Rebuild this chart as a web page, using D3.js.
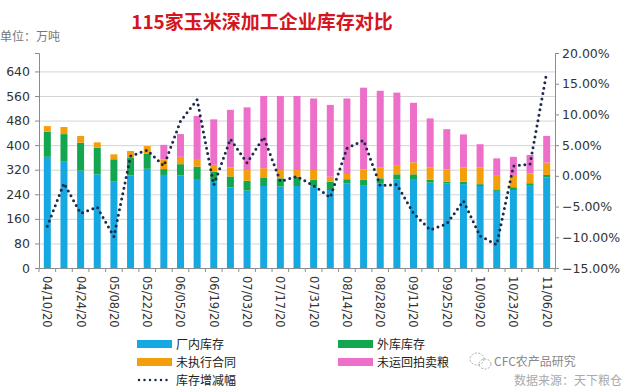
<!DOCTYPE html>
<html>
<head>
<meta charset="utf-8">
<script src="https://cdn.jsdelivr.net/npm/d3@7"></script>
<style>
  body { margin: 0; background: #fff; }
  svg { display: block; font-family: "Noto Sans CJK SC", "DejaVu Sans", sans-serif; }
</style>
</head>
<body>
<svg id="chart" width="624" height="388"></svg>
<script>
  // weekly dates
  const dates = ["04/10/20","04/17/20","04/24/20","05/01/20","05/08/20","05/15/20","05/22/20","05/29/20",
    "06/05/20","06/12/20","06/19/20","06/26/20","07/03/20","07/10/20","07/17/20","07/24/20",
    "07/31/20","08/07/20","08/14/20","08/21/20","08/28/20","09/04/20","09/11/20","09/18/20",
    "09/25/20","10/02/20","10/09/20","10/16/20","10/23/20","10/30/20","11/06/20"];

  const factoryStock = [362,346,317,305,281,301,323,303,301,287,281,262,252,267,265,267,
    265,254,276,270,276,289,287,278,276,273,267,251,254,270,295];
  const outerStock = [82,90,91,87,73,59,50,19,37,43,33,36,32,28,27,30,
    22,27,13,17,16,16,18,9,5,8,6,5,9,6,8];
  const unexecuted = [18,23,22,17,16,21,24,32,24,22,22,29,35,30,27,22,
    32,16,17,34,36,30,39,41,40,47,55,44,40,32,40];
  const auctionGrain = [0,0,0,0,0,0,0,47,74,143,148,188,204,235,241,241,
    233,234,246,266,249,236,194,159,131,107,75,57,59,60,87];
  // 库存增减幅 (%)
  const changeRate = [-8.2,-1.2,-6.1,-5.1,-9.9,3.2,4.2,1.6,8.9,12.4,-1.5,6.0,2.1,6.3,-0.9,-0.1,
    -1.6,-3.5,4.5,5.8,-1.6,-1.4,-6.1,-8.8,-7.8,-4.1,-9.8,-11.2,1.6,1.9,16.8];

  const leftTicks = [0,80,160,240,320,400,480,560,640];
  const rightTicks = [-15,-10,-5,0,5,10,15,20];

  const seriesKeys = ["厂内库存","外库库存","未执行合同","未运回拍卖粮"];
  const colors = ["#16a8e0","#12a64e","#f59e0b","#ee6fca"];
  const lineColor = "#1c2a4c";

  const rows = dates.map((d, i) => ({
    date: d,
    "厂内库存": factoryStock[i],
    "外库库存": outerStock[i],
    "未执行合同": unexecuted[i],
    "未运回拍卖粮": auctionGrain[i]
  }));

  const svg = d3.select("#chart");
  const mLeft = 39, mRight = 555, mTop = 53, mBottom = 268;

  const x = d3.scaleBand().domain(dates).range([mLeft, mRight]).paddingInner(0.58).paddingOuter(0.29);
  const y = d3.scaleLinear().domain([0, 700]).range([mBottom, mTop]);
  const y2 = d3.scaleLinear().domain([-15, 20]).range([mBottom, mTop]);

  // title + unit
  svg.append("text").attr("x", 262).attr("y", 29).attr("text-anchor", "middle")
    .attr("font-size", 19).attr("font-weight", "bold").attr("fill", "#d5161e")
    .text("115家玉米深加工企业库存对比");
  svg.append("text").attr("x", 0).attr("y", 41).attr("font-size", 12).attr("fill", "#777")
    .text("单位：万吨");

  // grid
  svg.append("g").selectAll("line").data(leftTicks.filter(t => t > 0)).join("line")
    .attr("x1", mLeft).attr("x2", mRight)
    .attr("y1", d => y(d) + 0.5).attr("y2", d => y(d) + 0.5)
    .attr("stroke", "#d4d4d4");

  // bars
  const stack = d3.stack().keys(seriesKeys)(rows);
  svg.append("g").selectAll("g").data(stack).join("g")
    .attr("fill", (d, i) => colors[i])
    .selectAll("rect").data(d => d).join("rect")
      .attr("x", d => x(d.data.date))
      .attr("width", x.bandwidth())
      .attr("y", d => y(d[1]))
      .attr("height", d => y(d[0]) - y(d[1]));

  // dotted line
  const line = d3.line()
    .x((d, i) => x(dates[i]) + x.bandwidth() / 2)
    .y(d => y2(d));
  svg.append("path").datum(changeRate)
    .attr("d", line).attr("fill", "none")
    .attr("stroke", lineColor).attr("stroke-width", 3)
    .attr("stroke-linecap", "round").attr("stroke-dasharray", "0 5.5");

  // axes
  const axisColor = "#8c8c8c";
  const gl = svg.append("g").attr("transform", `translate(${mLeft},0)`)
    .call(d3.axisLeft(y).tickValues(leftTicks).tickSize(4).tickPadding(5));
  const gr = svg.append("g").attr("transform", `translate(${mRight},0)`)
    .call(d3.axisRight(y2).tickValues(rightTicks).tickFormat(d => d3.format(".2f")(d) + "%").tickSize(4).tickPadding(3));
  const gx = svg.append("g").attr("transform", `translate(0,${mBottom})`)
    .call(d3.axisBottom(x).tickSize(0).tickFormat((d, i) => i % 2 === 0 ? d : ""));

  [gl, gr, gx].forEach(g => {
    g.select(".domain").attr("stroke", axisColor);
    g.selectAll(".tick line").attr("stroke", axisColor);
    g.selectAll("text").attr("font-size", 12).attr("fill", "#333")
      .attr("font-family", "'DejaVu Sans', sans-serif");
  });
  gl.selectAll("text").attr("font-size", 12.5);
  gr.selectAll("text").attr("font-size", 12.5);

  // category boundary ticks
  gx.append("g").selectAll("line").data(d3.range(dates.length + 1)).join("line")
    .attr("x1", i => mLeft + i * x.step()).attr("x2", i => mLeft + i * x.step())
    .attr("y1", 0).attr("y2", 4).attr("stroke", axisColor);

  gx.selectAll(".tick text")
    .attr("transform", "rotate(90)")
    .attr("text-anchor", "start")
    .attr("dy", "0.35em").attr("dx", 0)
    .attr("x", 8).attr("y", 0)
    .attr("font-size", 11.5);

  // legend
  const legend = [
    { label: "厂内库存", color: colors[0], lx: 137, ly: 344 },
    { label: "外库库存", color: colors[1], lx: 338, ly: 344 },
    { label: "未执行合同", color: colors[2], lx: 137, ly: 362 },
    { label: "未运回拍卖粮", color: colors[3], lx: 338, ly: 362 }
  ];
  const lg = svg.append("g");
  legend.forEach(d => {
    lg.append("rect").attr("x", d.lx).attr("y", d.ly - 4).attr("width", 35).attr("height", 8).attr("fill", d.color);
    lg.append("text").attr("x", d.lx + 39).attr("y", d.ly + 4.5).attr("font-size", 12).attr("fill", "#222").text(d.label);
  });
  lg.append("line").attr("x1", 139).attr("x2", 172).attr("y1", 380).attr("y2", 380)
    .attr("stroke", lineColor).attr("stroke-width", 2.5).attr("stroke-linecap", "round").attr("stroke-dasharray", "0 5.5");
  lg.append("text").attr("x", 176).attr("y", 384.5).attr("font-size", 12).attr("fill", "#222").text("库存增减幅");

  // source / watermark
  const ic = svg.append("g").attr("fill", "none").attr("stroke", "#aaa").attr("stroke-width", 1).attr("stroke-dasharray", "2 1.5");
  ic.append("ellipse").attr("cx", 477).attr("cy", 359).attr("rx", 7).attr("ry", 6);
  ic.append("ellipse").attr("cx", 485).attr("cy", 364).attr("rx", 6).attr("ry", 5);
  svg.append("text").attr("x", 494).attr("y", 366).attr("font-size", 12).attr("fill", "#888").text("CFC农产品研究");
  svg.append("text").attr("x", 622).attr("y", 385).attr("text-anchor", "end").attr("font-size", 12).attr("fill", "#aaa").text("数据来源：天下粮仓");
</script>
</body>
</html>
